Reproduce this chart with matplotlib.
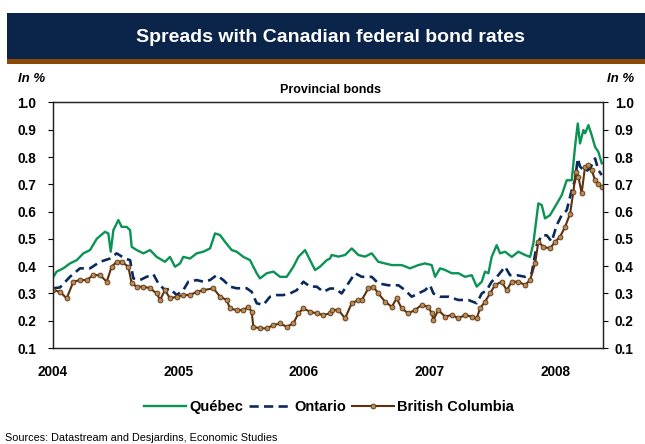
import numpy as np
import matplotlib.pyplot as plt
from matplotlib.patches import Rectangle

plt.rcParams['font.family'] = ['Liberation Sans', 'DejaVu Sans']

# decimal years and spreads (in %)
quebec_t = [2004.003, 2004.029, 2004.082, 2004.135, 2004.189, 2004.242, 2004.295, 2004.348,
            2004.414, 2004.441, 2004.46, 2004.481, 2004.521, 2004.547, 2004.587, 2004.614,
            2004.627, 2004.667, 2004.72, 2004.773, 2004.826, 2004.892, 2004.932, 2004.972,
            2005.012, 2005.038, 2005.092, 2005.145, 2005.198, 2005.251, 2005.291, 2005.331,
            2005.371, 2005.424, 2005.463, 2005.517, 2005.57, 2005.596, 2005.623, 2005.649,
            2005.703, 2005.756, 2005.809, 2005.862, 2005.915, 2005.955, 2006.008, 2006.048,
            2006.088, 2006.127, 2006.181, 2006.207, 2006.22, 2006.274, 2006.327, 2006.38,
            2006.433, 2006.486, 2006.539, 2006.592, 2006.645, 2006.699, 2006.778, 2006.845,
            2006.911, 2006.964, 2007.017, 2007.044, 2007.084, 2007.124, 2007.177, 2007.23,
            2007.283, 2007.336, 2007.376, 2007.416, 2007.442, 2007.469, 2007.495, 2007.535,
            2007.562, 2007.602, 2007.655, 2007.708, 2007.761, 2007.801, 2007.827, 2007.867,
            2007.894, 2007.92, 2007.96, 2008.0, 2008.053, 2008.093, 2008.133, 2008.159,
            2008.181, 2008.199, 2008.226, 2008.239, 2008.266, 2008.292, 2008.319, 2008.345,
            2008.372]
quebec = [0.361, 0.38, 0.392, 0.41, 0.422, 0.447, 0.459, 0.50,
          0.526, 0.52, 0.453, 0.532, 0.569, 0.544, 0.544, 0.532,
          0.471, 0.459, 0.447, 0.459, 0.434, 0.416, 0.434, 0.398,
          0.41, 0.434, 0.428, 0.447, 0.453, 0.465, 0.52, 0.514,
          0.489, 0.459, 0.453, 0.434, 0.422, 0.398, 0.374, 0.355,
          0.374, 0.38, 0.361, 0.361, 0.398, 0.434, 0.459, 0.422,
          0.386, 0.398, 0.422, 0.428, 0.441, 0.435, 0.441, 0.465,
          0.441, 0.435, 0.447, 0.416, 0.41, 0.404, 0.404, 0.392,
          0.404, 0.41, 0.404, 0.361, 0.392, 0.386, 0.374, 0.374,
          0.361, 0.367, 0.325, 0.343, 0.38, 0.374, 0.434, 0.477,
          0.447, 0.453, 0.434, 0.453, 0.441, 0.434, 0.483, 0.63,
          0.624, 0.575, 0.587, 0.618, 0.66, 0.715, 0.715, 0.837,
          0.923, 0.85, 0.899, 0.887, 0.917, 0.88, 0.837, 0.819,
          0.777]

ontario_t = [2004.003, 2004.056, 2004.135, 2004.215, 2004.295, 2004.375, 2004.454, 2004.507,
             2004.574, 2004.614, 2004.64, 2004.693, 2004.746, 2004.80, 2004.839, 2004.892,
             2004.932, 2004.985, 2005.038, 2005.078, 2005.145, 2005.198, 2005.251, 2005.304,
             2005.357, 2005.41, 2005.463, 2005.543, 2005.583, 2005.623, 2005.676, 2005.729,
             2005.782, 2005.835, 2005.888, 2005.942, 2005.995, 2006.048, 2006.101, 2006.154,
             2006.207, 2006.247, 2006.30, 2006.353, 2006.406, 2006.46, 2006.539, 2006.592,
             2006.672, 2006.752, 2006.805, 2006.858, 2006.911, 2006.964, 2007.004, 2007.031,
             2007.084, 2007.15, 2007.23, 2007.309, 2007.376, 2007.416, 2007.456, 2007.495,
             2007.548, 2007.602, 2007.641, 2007.695, 2007.761, 2007.814, 2007.854, 2007.894,
             2007.934, 2007.973, 2008.013, 2008.053, 2008.093, 2008.133, 2008.159, 2008.181,
             2008.199, 2008.239, 2008.279, 2008.319, 2008.345, 2008.372]
ontario = [0.319, 0.322, 0.361, 0.392, 0.392, 0.416, 0.428, 0.447,
           0.428, 0.422, 0.355, 0.349, 0.361, 0.37, 0.337, 0.312,
           0.318, 0.294, 0.312, 0.343, 0.349, 0.343, 0.349, 0.367,
           0.349, 0.325, 0.319, 0.319, 0.306, 0.264, 0.258, 0.288,
           0.294, 0.294, 0.30, 0.312, 0.343, 0.325, 0.325, 0.306,
           0.318, 0.318, 0.30, 0.337, 0.374, 0.361, 0.361, 0.337,
           0.33, 0.33, 0.312, 0.288, 0.30, 0.312, 0.33, 0.30,
           0.288, 0.288, 0.276, 0.276, 0.264, 0.30, 0.312, 0.343,
           0.367, 0.398, 0.367, 0.367, 0.361, 0.374, 0.477, 0.513,
           0.513, 0.49, 0.55, 0.587, 0.605, 0.679, 0.715, 0.795,
           0.765, 0.746, 0.758, 0.795, 0.752, 0.734]

bc_t = [2004.003, 2004.056, 2004.109, 2004.162, 2004.215, 2004.268, 2004.321, 2004.375,
        2004.428, 2004.467, 2004.507, 2004.547, 2004.60, 2004.627, 2004.667, 2004.72,
        2004.773, 2004.826, 2004.853, 2004.892, 2004.932, 2004.985, 2005.038, 2005.092,
        2005.145, 2005.198, 2005.278, 2005.331, 2005.384, 2005.41, 2005.463, 2005.517,
        2005.556, 2005.583, 2005.596, 2005.649, 2005.703, 2005.756, 2005.809, 2005.862,
        2005.915, 2005.955, 2005.995, 2006.048, 2006.101, 2006.154, 2006.207, 2006.22,
        2006.274, 2006.327, 2006.38, 2006.433, 2006.46, 2006.513, 2006.552, 2006.592,
        2006.645, 2006.699, 2006.738, 2006.778, 2006.831, 2006.884, 2006.938, 2006.991,
        2007.017, 2007.031, 2007.07, 2007.124, 2007.177, 2007.23, 2007.283, 2007.336,
        2007.376, 2007.402, 2007.442, 2007.482, 2007.522, 2007.575, 2007.615, 2007.655,
        2007.708, 2007.761, 2007.801, 2007.841, 2007.867, 2007.907, 2007.96, 2008.0,
        2008.04, 2008.08, 2008.12, 2008.146, 2008.165, 2008.186, 2008.212, 2008.239,
        2008.266, 2008.292, 2008.319, 2008.345, 2008.372]
bc = [0.312, 0.306, 0.282, 0.343, 0.349, 0.349, 0.367, 0.367,
      0.343, 0.398, 0.416, 0.416, 0.398, 0.337, 0.325, 0.325,
      0.319, 0.30, 0.276, 0.312, 0.282, 0.288, 0.294, 0.294,
      0.306, 0.312, 0.319, 0.288, 0.276, 0.245, 0.239, 0.239,
      0.251, 0.233, 0.178, 0.172, 0.172, 0.184, 0.19, 0.178,
      0.19, 0.227, 0.245, 0.233, 0.227, 0.221, 0.227, 0.239,
      0.239, 0.209, 0.264, 0.276, 0.276, 0.319, 0.325, 0.30,
      0.27, 0.251, 0.282, 0.245, 0.227, 0.239, 0.258, 0.251,
      0.227, 0.203, 0.239, 0.215, 0.221, 0.209, 0.221, 0.215,
      0.209, 0.245, 0.27, 0.30, 0.331, 0.343, 0.312, 0.343,
      0.343, 0.331, 0.349, 0.41, 0.489, 0.471, 0.465, 0.489,
      0.508, 0.544, 0.593, 0.673, 0.746, 0.728, 0.667, 0.765,
      0.77, 0.752, 0.715, 0.703, 0.69]

years = [2004, 2005, 2006, 2007, 2008]
yticks = [0.1, 0.2, 0.3, 0.4, 0.5, 0.6, 0.7, 0.8, 0.9, 1.0]

green = '#0a9352'
navy = '#0b2a5c'
brown = '#5a3210'

fig = plt.figure(figsize=(6.45, 4.44), dpi=100)

# title banner
fig.patches.append(Rectangle((7 / 645, 1 - 59 / 444), 1, 46 / 444, transform=fig.transFigure,
                             facecolor='#0b2449', edgecolor='none'))
fig.patches.append(Rectangle((7 / 645, 1 - 64 / 444), 1, 5 / 444, transform=fig.transFigure,
                             facecolor='#8a4a06', edgecolor='none'))
fig.text(0.513, 1 - 37 / 444, 'Spreads with Canadian federal bond rates', color='white',
         fontsize=14, fontweight='bold', ha='center', va='center')

ax = fig.add_axes([53 / 645, 1 - 348 / 444, 550 / 645, 245.5 / 444])
ax.plot(quebec_t, quebec, color=green, lw=1.7, label='Québec')
ax.plot(ontario_t, ontario, color=navy, lw=1.9, dashes=(3.5, 2), label='Ontario')
ax.plot(bc_t, bc, color=brown, lw=1.5, marker='o', ms=3.5, mfc='#b98a55', mec=brown,
        mew=0.6, label='British Columbia')

ax.set_xlim(2004.0, 2008.382)
ax.set_ylim(0.1, 1.0)
ax.set_xticks(years)
ax.set_xticklabels([str(y) for y in years], fontsize=9.8, fontweight='bold')
ax.tick_params(axis='x', length=0, pad=12)
ax.set_yticks(yticks)
ax.set_yticklabels([f'{v:.1f}' for v in yticks], fontsize=9.8, fontweight='bold')
ax.tick_params(axis='y', direction='out', length=3.5, width=0.8, pad=8.5)

ax2 = ax.twinx()
ax2.set_ylim(0.1, 1.0)
ax2.set_yticks(yticks)
ax2.set_yticklabels([f'{v:.1f}' for v in yticks], fontsize=9.8, fontweight='bold')
ax2.tick_params(axis='y', direction='out', length=3.5, width=0.8, pad=5)
for a in (ax, ax2):
    for s in a.spines.values():
        s.set_linewidth(0.9)
        s.set_color('#222222')

fig.text(18 / 645, 1 - 79 / 444, 'In %', fontsize=9.5, fontweight='bold', style='italic',
         va='center', ha='left')
fig.text(634 / 645, 1 - 79 / 444, 'In %', fontsize=9.5, fontweight='bold', style='italic',
         va='center', ha='right')
fig.text(330 / 645, 1 - 90 / 444, 'Provincial bonds', fontsize=9, fontweight='bold',
         va='center', ha='center')

handles, labels = ax.get_legend_handles_labels()
fig.legend(handles, labels, loc='center', bbox_to_anchor=(329 / 645, 1 - 407 / 444), ncol=3,
           frameon=False, handlelength=2.9, handletextpad=0.25, columnspacing=0.35,
           prop={'weight': 'bold', 'size': 10.5})

fig.text(5 / 645, 1 - 438 / 444, 'Sources: Datastream and Desjardins, Economic Studies',
         fontsize=7.8, va='center', ha='left')

fig.savefig('out.png', dpi=100)
